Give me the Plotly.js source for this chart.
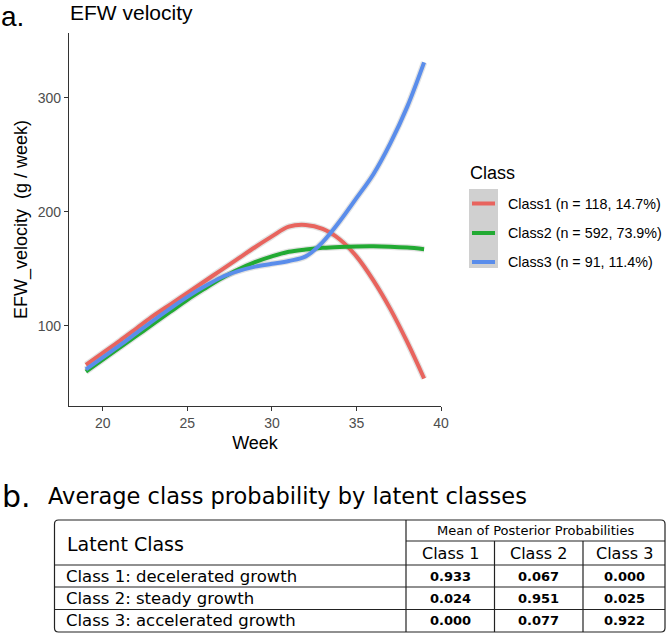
<!DOCTYPE html>
<html>
<head>
<meta charset="utf-8">
<script src="https://cdn.plot.ly/plotly-3.0.1.min.js"></script>
<style>
  html, body { margin: 0; padding: 0; background: #fff; }
  #chart { width: 666px; height: 634px; }
</style>
</head>
<body>
<div id="chart"></div>
<script>
// Gestational week (x) and smoothed EFW velocity per class
const weeks = [19, 20, 21, 22, 23, 24, 25, 26, 27, 28, 29, 30, 31, 32, 33, 34, 35, 36, 37, 38, 39];
const class1Vel = [66, 76.5, 87, 98, 109, 119, 129, 139, 149, 159, 169, 178.5, 187, 188.5, 185, 176, 161, 140, 115, 86, 54];
const class2Vel = [60, 70.5, 81, 91.5, 102, 112.5, 123, 132.5, 141.5, 149.5, 156, 161, 165, 167, 168.5, 169.3, 169.7, 169.8, 169.5, 168.7, 167.3];
const class3Vel = [62, 72.5, 83, 94, 105, 115.5, 125.5, 134.5, 142.5, 148, 152, 154.5, 157, 161, 173.5, 191.5, 212, 233, 260, 292, 331];

const classNames = ['Class1', 'Class2', 'Class3'];
const classN = [118, 592, 91];
const classPct = [14.7, 73.9, 11.4];
const classColors = ['#E8645E', '#22AA33', '#5A8DEB'];

// Table b: average posterior probability by latent class
const latentClassLabels = ['Class 1: decelerated growth', 'Class 2: steady growth', 'Class 3: accelerated growth'];
const probHeaders = ['Class 1', 'Class 2', 'Class 3'];
const probMatrix = [
    [0.933, 0.067, 0.000],
    [0.024, 0.951, 0.025],
    [0.000, 0.077, 0.922]
];

const W = 666, H = 634;
const px = (x) => x / W;          // pixel -> paper x
const py = (y) => 1 - y / H;      // pixel -> paper y

const sansA = 'Liberation Sans, Arial, sans-serif';
const sansB = 'DejaVu Sans, sans-serif';

const series = [class1Vel, class2Vel, class3Vel];

// faint grey halo standing in for the confidence ribbon, then the coloured lines
const traces = [];
series.forEach((ys) => {
    traces.push({
        type: 'scatter', mode: 'lines', x: weeks, y: ys,
        line: { color: 'rgba(150,150,150,0.28)', width: 6.5, shape: 'spline', smoothing: 1 },
        hoverinfo: 'skip', showlegend: false
    });
});
series.forEach((ys, i) => {
    traces.push({
        type: 'scatter', mode: 'lines', x: weeks, y: ys, name: classNames[i],
        line: { color: classColors[i], width: 4, shape: 'spline', smoothing: 1 },
        showlegend: false
    });
});

const shapes = [];
const annotations = [];

// panel labels and titles
annotations.push({ xref: 'paper', yref: 'paper', x: 0, y: 1, xanchor: 'left', yanchor: 'top', borderpad: 0,
    text: 'a.', showarrow: false, font: { family: sansA, size: 28, color: '#000' } });
annotations.push({ xref: 'paper', yref: 'paper', x: px(68), y: py(13), xanchor: 'left', yanchor: 'middle',
    text: 'EFW velocity', showarrow: false, font: { family: sansA, size: 21, color: '#000' } });

// manual legend
annotations.push({ xref: 'paper', yref: 'paper', x: px(468), y: py(173), xanchor: 'left', yanchor: 'middle',
    text: 'Class', showarrow: false, font: { family: sansA, size: 18, color: '#000' } });
shapes.push({ type: 'rect', xref: 'paper', yref: 'paper', x0: px(469), x1: px(498), y0: py(189), y1: py(268),
    fillcolor: '#D0D0D0', line: { width: 0 }, layer: 'below' });
const legendY = [203.5, 233, 262];
classNames.forEach((name, i) => {
    shapes.push({ type: 'line', xref: 'paper', yref: 'paper', x0: px(472), x1: px(495), y0: py(legendY[i]), y1: py(legendY[i]),
        line: { color: classColors[i], width: 4 } });
    annotations.push({ xref: 'paper', yref: 'paper', x: px(506), y: py(legendY[i]), xanchor: 'left', yanchor: 'middle',
        text: `${name} (n = ${classN[i]}, ${classPct[i]}%)`, showarrow: false,
        font: { family: sansA, size: 14.3, color: '#000' } });
});

// panel b title
annotations.push({ xref: 'paper', yref: 'paper', x: 0, y: py(496), xanchor: 'left', yanchor: 'middle',
    text: 'b.', showarrow: false, font: { family: sansB, size: 30, color: '#000' } });
annotations.push({ xref: 'paper', yref: 'paper', x: px(46), y: py(496), xanchor: 'left', yanchor: 'middle',
    text: 'Average class probability by latent classes', showarrow: false,
    font: { family: sansB, size: 22.5, color: '#000' } });

// table grid
const tL = 54.5, tR = 665, tT = 520, tB = 632;
const colX = [406, 494.5, 583, tR];
const rowY = [565, 587, 609.5, tB];
const r = 4;
const border = `M ${px(tL + r)},${py(tT)} L ${px(tR - r)},${py(tT)} Q ${px(tR)},${py(tT)} ${px(tR)},${py(tT + r)} ` +
    `L ${px(tR)},${py(tB - r)} Q ${px(tR)},${py(tB)} ${px(tR - r)},${py(tB)} L ${px(tL + r)},${py(tB)} ` +
    `Q ${px(tL)},${py(tB)} ${px(tL)},${py(tB - r)} L ${px(tL)},${py(tT + r)} Q ${px(tL)},${py(tT)} ${px(tL + r)},${py(tT)} Z`;
shapes.push({ type: 'path', xref: 'paper', yref: 'paper', path: border, line: { color: '#222', width: 1.2 } });
const gridLine = (x0, y0, x1, y1) => shapes.push({ type: 'line', xref: 'paper', yref: 'paper',
    x0: px(x0), y0: py(y0), x1: px(x1), y1: py(y1), line: { color: '#222', width: 1.2 } });
gridLine(colX[0], tT, colX[0], tB);
gridLine(colX[0], 541, tR, 541);
gridLine(colX[1], 541, colX[1], tB);
gridLine(colX[2], 541, colX[2], tB);
rowY.slice(0, 3).forEach((y) => gridLine(tL, y, tR, y));

// table text
annotations.push({ xref: 'paper', yref: 'paper', x: px(65), y: py(544), xanchor: 'left', yanchor: 'middle',
    text: 'Latent Class', showarrow: false, font: { family: sansB, size: 19, color: '#000' } });
annotations.push({ xref: 'paper', yref: 'paper', x: px((colX[0] + tR) / 2), y: py(530.5), xanchor: 'center', yanchor: 'middle',
    text: 'Mean of Posterior Probabilities', showarrow: false, font: { family: sansB, size: 13, color: '#000' } });
probHeaders.forEach((h, j) => {
    annotations.push({ xref: 'paper', yref: 'paper', x: px((colX[j] + colX[j + 1]) / 2), y: py(553.5),
        xanchor: 'center', yanchor: 'middle', text: h, showarrow: false,
        font: { family: sansB, size: 16, color: '#000' } });
});
const rowTop = [565, 587, 609.5];
latentClassLabels.forEach((lab, i) => {
    const yc = (rowTop[i] + rowY[i + 1]) / 2;
    annotations.push({ xref: 'paper', yref: 'paper', x: px(64), y: py(yc), xanchor: 'left', yanchor: 'middle',
        text: lab, showarrow: false, font: { family: sansB, size: 16.5, color: '#000' } });
    probMatrix[i].forEach((v, j) => {
        annotations.push({ xref: 'paper', yref: 'paper', x: px((colX[j] + colX[j + 1]) / 2), y: py(yc),
            xanchor: 'center', yanchor: 'middle', text: `<b>${v.toFixed(3)}</b>`, showarrow: false,
            font: { family: sansB, size: 13, color: '#000' } });
    });
});

const layout = {
    width: W, height: H,
    margin: { l: 0, r: 0, t: 0, b: 0 },
    paper_bgcolor: '#fff', plot_bgcolor: '#fff',
    showlegend: false,
    xaxis: {
        domain: [px(69), px(441)],
        range: [18, 40],
        tickvals: [20, 25, 30, 35, 40],
        ticks: 'outside', ticklen: 4, tickwidth: 1, tickcolor: '#333',
        showline: true, linecolor: '#333', linewidth: 1.2,
        showgrid: false, zeroline: false,
        tickfont: { family: sansA, size: 14, color: '#4D4D4D' },
        title: { text: 'Week', font: { family: sansA, size: 18, color: '#000' }, standoff: 6 }
    },
    yaxis: {
        domain: [py(406), py(33)],
        range: [29.9, 356.7],
        tickvals: [100, 200, 300],
        ticks: 'outside', ticklen: 4, tickwidth: 1, tickcolor: '#333',
        showline: true, linecolor: '#333', linewidth: 1.2,
        showgrid: false, zeroline: false,
        tickfont: { family: sansA, size: 14, color: '#4D4D4D' },
        title: { text: 'EFW_velocity\u00a0 (g / week)', font: { family: sansA, size: 18, color: '#000' }, standoff: 5 }
    },
    shapes: shapes,
    annotations: annotations
};

Plotly.newPlot('chart', traces, layout, { displayModeBar: false, staticPlot: true });
</script>
</body>
</html>
